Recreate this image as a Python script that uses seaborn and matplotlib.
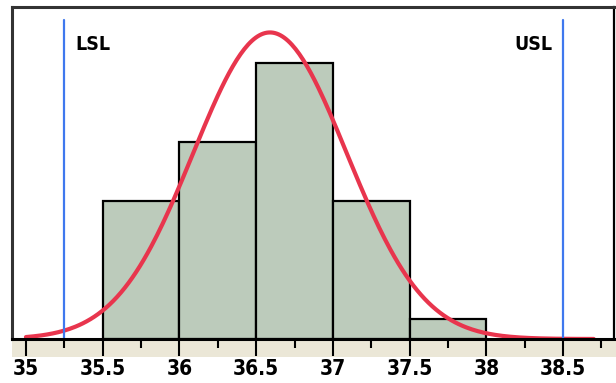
import numpy as np
import pandas as pd
import matplotlib
matplotlib.use("Agg")
import matplotlib.pyplot as plt
import seaborn as sns
from matplotlib.patches import Rectangle

# ---- data ----
bin_edges = [35.5, 36.0, 36.5, 37.0, 37.5, 38.0]
bin_counts = [7, 10, 14, 7, 1]
fit_mean = 36.59
fit_sd = 0.50
curve_range = [35.0, 38.7]
lsl = 35.25
usl = 38.5
tick_values = [35, 35.5, 36, 36.5, 37, 37.5, 38, 38.5]
tick_labels = ["35", "35.5", "36", "36.5", "37", "37.5", "38", "38.5"]

sns.set_style("white")
plt.rcParams["font.family"] = ["DejaVu Sans"]
plt.rcParams["font.stretch"] = "condensed"
plt.rcParams["text.color"] = "black"
plt.rcParams["xtick.color"] = "black"

W, H = 616, 383
fig = plt.figure(figsize=(W / 100, H / 100), dpi=100)
ax = fig.add_axes([12 / W, (H - 339) / H, 602 / W, 332 / H])

# beige band under the axis
band = Rectangle((12 / W, (H - 357) / H), (W - 12) / W, 18 / H,
                 transform=fig.transFigure, facecolor="#ebe7d7",
                 edgecolor="none", zorder=-1)
fig.patches.append(band)

centers = [(bin_edges[i] + bin_edges[i + 1]) / 2 for i in range(len(bin_counts))]
df = pd.DataFrame({"value": centers, "count": bin_counts})
sns.histplot(data=df, x="value", weights="count", bins=bin_edges, ax=ax,
             color="#bccbbb", edgecolor="black", linewidth=1.6, alpha=1.0, zorder=2)

# fitted normal curve scaled to counts
n = sum(bin_counts)
bw = bin_edges[1] - bin_edges[0]
xs = np.linspace(curve_range[0], curve_range[1], 300)
ys = n * bw / (fit_sd * np.sqrt(2 * np.pi)) * np.exp(-0.5 * ((xs - fit_mean) / fit_sd) ** 2)
sns.lineplot(x=xs, y=ys, ax=ax, color="#e8354d", linewidth=3.0, zorder=4)

# spec limits
ax.plot([lsl, lsl], [0, 16.2], color="#3f78ee", linewidth=1.6, zorder=5)
ax.plot([usl, usl], [0, 16.2], color="#3f78ee", linewidth=1.6, zorder=5)
ax.text(lsl + 0.07, 14.95, "LSL", fontsize=14, fontweight="bold", fontstretch="condensed",
        va="center", ha="left", color="black")
ax.text(usl - 0.07, 14.95, "USL", fontsize=14, fontweight="bold", fontstretch="condensed",
        va="center", ha="right", color="black")

ax.set_xlim(34.909, 38.832)
ax.set_ylim(0, 16.85)
ax.set_xticks(tick_values)
ax.set_xticklabels(tick_labels, fontsize=15, fontweight="bold", fontstretch="condensed")
ax.set_xticks(np.arange(35.25, 38.8, 0.5), minor=True)
ax.set_yticks([])
ax.set_xlabel("")
ax.set_ylabel("")
ax.tick_params(axis="x", which="major", direction="out", length=12.5, width=1.5,
               pad=2, colors="black", bottom=True)
ax.tick_params(axis="x", which="minor", direction="out", length=6.5, width=1.5,
               colors="black", bottom=True)

for side in ["left", "top"]:
    ax.spines[side].set_color("#333333")
    ax.spines[side].set_linewidth(2.2)
ax.spines["right"].set_color("black")
ax.spines["right"].set_linewidth(1.6)
ax.spines["bottom"].set_color("black")
ax.spines["bottom"].set_linewidth(2.2)
for s in ax.spines.values():
    s.set_zorder(6)

fig.savefig("out.png", dpi=100)
